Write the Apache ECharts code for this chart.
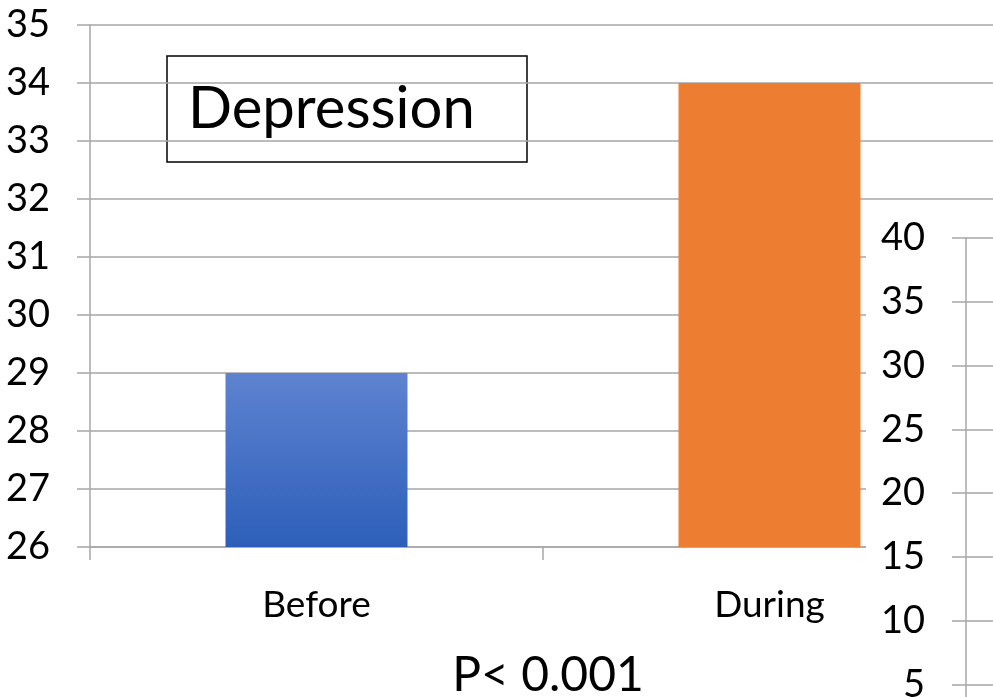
<!DOCTYPE html>
<html>
<head>
<meta charset="utf-8">
<script src="https://cdn.jsdelivr.net/npm/echarts@6/dist/echarts.min.js"></script>
<style>
html,body{margin:0;padding:0;background:#fff;}
#main{width:993px;height:697px;}
</style>
</head>
<body>
<div id="main"></div>
<script>
// data
var categories = ['Before', 'During'];
var values = [29, 34];
var leftAxis = {min: 26, max: 35, step: 1};
var rightAxis = {min: 0, max: 40, step: 5};
var titleText = 'Depression';
var noteText = 'P< 0.001';

var gridColor = '#a6a6a6';
var fontName = 'Lato';

var barColors = [
	new echarts.graphic.LinearGradient(0, 0, 0, 1, [
		{offset: 0, color: 'rgb(94,131,208)'},
		{offset: 1, color: 'rgb(45,95,186)'}
	]),
	'#ed7d31'
];

var chart = echarts.init(document.getElementById('main'));

var seriesData = [];
for (var i = 0; i < values.length; i++) {
	seriesData.push({value: values[i], itemStyle: {color: barColors[i]}});
}

var option = {
	animation: false,
	backgroundColor: '#fff',
	textStyle: {fontFamily: fontName},
	grid: [
		{left: 90, top: 25, width: 906, height: 522, outerBoundsMode: 'none', containLabel: false},
		{left: 966, top: 238, width: 60, height: 510, outerBoundsMode: 'none', containLabel: false}
	],
	xAxis: [{
		type: 'category',
		gridIndex: 0,
		data: categories,
		axisLine: {lineStyle: {color: gridColor, width: 1.5}},
		axisTick: {show: true, length: 13, lineStyle: {color: gridColor, width: 1.5}},
		axisLabel: {color: '#000', fontSize: 37, fontFamily: fontName, margin: 40}
	}, {
		type: 'category',
		gridIndex: 1,
		data: [''],
		show: false
	}],
	yAxis: [{
		type: 'value',
		gridIndex: 0,
		min: leftAxis.min,
		max: leftAxis.max,
		interval: leftAxis.step,
		axisLine: {show: true, lineStyle: {color: gridColor, width: 1.5}},
		axisTick: {show: true, length: 13, lineStyle: {color: gridColor, width: 1.5}},
		splitLine: {lineStyle: {color: gridColor, width: 1.5}},
		axisLabel: {color: '#000', fontSize: 38, fontFamily: fontName, margin: 40}
	}, {
		type: 'value',
		gridIndex: 1,
		z: 20,
		min: rightAxis.min,
		max: rightAxis.max,
		interval: rightAxis.step,
		axisLine: {show: true, lineStyle: {color: gridColor, width: 1.5}},
		axisTick: {show: true, length: 14, lineStyle: {color: gridColor, width: 1.5}},
		splitLine: {lineStyle: {color: gridColor, width: 1.5}},
		axisLabel: {color: '#000', fontSize: 38, fontFamily: fontName, margin: 41}
	}],
	series: [{
		type: 'bar',
		xAxisIndex: 0,
		yAxisIndex: 0,
		barWidth: 182,
		data: seriesData
	}],
	graphic: [
		{
			// white panel the small right chart sits on
			type: 'rect',
			z: 10,
			shape: {x: 866, y: 214, width: 140, height: 500},
			style: {fill: '#fff'}
		},
		{
			type: 'group',
			z: 30,
			children: [{
				type: 'rect',
				shape: {x: 167, y: 56, width: 360, height: 106},
				style: {fill: '#fff', stroke: '#000', lineWidth: 1.5}
			}, {
				type: 'text',
				x: 188,
				y: 109,
				style: {text: titleText, fill: '#000', font: '58px ' + fontName, textVerticalAlign: 'middle'}
			}]
		},
		{
			type: 'text',
			z: 30,
			x: 548,
			y: 676,
			style: {text: noteText, fill: '#000', font: '48px ' + fontName, textAlign: 'center', textVerticalAlign: 'middle'}
		}
	]
};
chart.setOption(option);
</script>
</body>
</html>
